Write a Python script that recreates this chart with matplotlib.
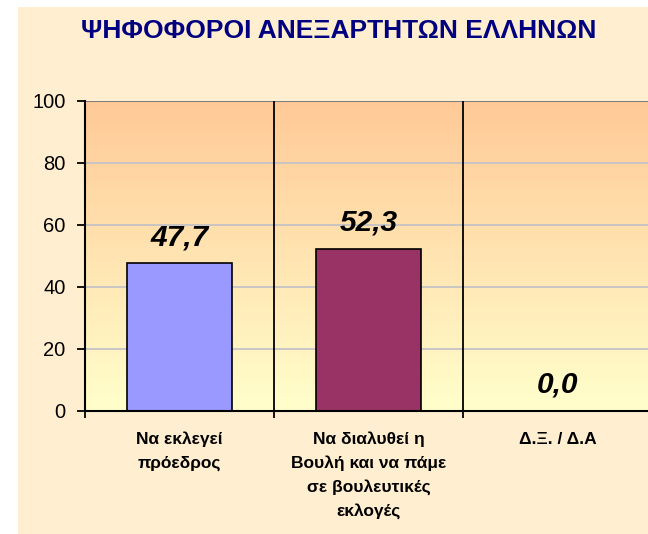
#!/usr/bin/env python3

import numpy as np
import matplotlib.pyplot as plt
from matplotlib.patches import Rectangle

plt.rcParams['font.family'] = ['Liberation Sans', 'DejaVu Sans']

#### ========== Data ==========

figTitle = 'ΨΗΦΟΦΟΡΟΙ ΑΝΕΞΑΡΤΗΤΩΝ ΕΛΛΗΝΩΝ'

categories = [ 'Να εκλεγεί\nπρόεδρος',
               'Να διαλυθεί η\nΒουλή και να πάμε\nσε βουλευτικές\nεκλογές',
               'Δ.Ξ. / Δ.Α' ]
values     = [ 47.7, 52.3, 0.0 ]
barColors  = [ '#9999FF', '#993366', '#FFFFCC' ]
yTicks     = [ 0, 20, 40, 60, 80, 100 ]

#### ==========================

fig = plt.figure( figsize = ( 6.48, 5.34 ), dpi = 100 )
fig.patch.set_facecolor( 'white' )

# cream chart area (leaves a white strip on the left and top)
fig.patches.append( Rectangle( ( 18 / 648, 0 ), 1 - 18 / 648, 1 - 7 / 534,
                               transform = fig.transFigure,
                               facecolor = '#FFEFD0', edgecolor = 'none',
                               zorder = -10 ) )

ax = fig.add_axes( [ 85 / 648, 123 / 534, 567 / 648, 310 / 534 ] )

x = np.arange( len( categories ) )
ax.set_xlim( -0.5, len( categories ) - 0.5 )
ax.set_ylim( 0, 100 )

# gradient background of the plot area
top = np.array( [ 1.0, 0.79, 0.59 ] )
bot = np.array( [ 1.0, 1.0, 0.80 ] )
t = np.linspace( 0, 1, 256 )[:, None]
grad = ( top[None, :] * ( 1 - t ) + bot[None, :] * t )[:, None, :]
ax.imshow( grad, extent = [ -0.5, len( categories ) - 0.5, 0, 100 ],
           aspect = 'auto', origin = 'upper', zorder = 0 )

for yy in yTicks[1:-1]:
    ax.axhline( yy, color = '#C0C0C8', linewidth = 1.2, zorder = 1 )
ax.axhline( 100, color = '#808080', linewidth = 1.5, zorder = 1 )

for xx in x[:-1] + 0.5:
    ax.axvline( xx, color = 'k', linewidth = 1.3, zorder = 2 )

ax.bar( x, values, width = 0.556, color = barColors, edgecolor = 'k',
        linewidth = 1.2, zorder = 3 )

for xi, v in zip( x, values ):
    ax.annotate( '{:.1f}'.format( v ).replace( '.', ',' ), ( xi, v ),
                 xytext = ( 0, 13 ), textcoords = 'offset points',
                 ha = 'center', va = 'baseline', fontsize = 21.5,
                 fontweight = 'bold', fontstyle = 'italic', zorder = 4 )

for s in [ 'top', 'right' ]:
    ax.spines[s].set_visible( False )
ax.spines['left'].set_linewidth( 1.5 )
ax.spines['bottom'].set_linewidth( 1.5 )
ax.spines['left'].set_zorder( 5 )
ax.spines['bottom'].set_zorder( 5 )

ax.set_yticks( yTicks )
ax.tick_params( axis = 'y', direction = 'out', length = 6, width = 1.3,
                labelsize = 14.5, pad = 8 )

ax.set_xticks( x )
ax.set_xticklabels( categories, fontsize = 12.5, fontweight = 'bold',
                    linespacing = 1.65 )
ax.set_xticks( np.arange( len( categories ) + 1 ) - 0.5, minor = True )
ax.tick_params( axis = 'x', which = 'major', length = 0, pad = 15 )
ax.tick_params( axis = 'x', which = 'minor', direction = 'out', length = 5,
                width = 1.3 )

fig.text( 339 / 648, 1 - 31 / 534, figTitle, ha = 'center', va = 'center',
          fontsize = 19, fontweight = 'bold', color = '#000080' )

plt.savefig( 'out.png', dpi = 100 )
